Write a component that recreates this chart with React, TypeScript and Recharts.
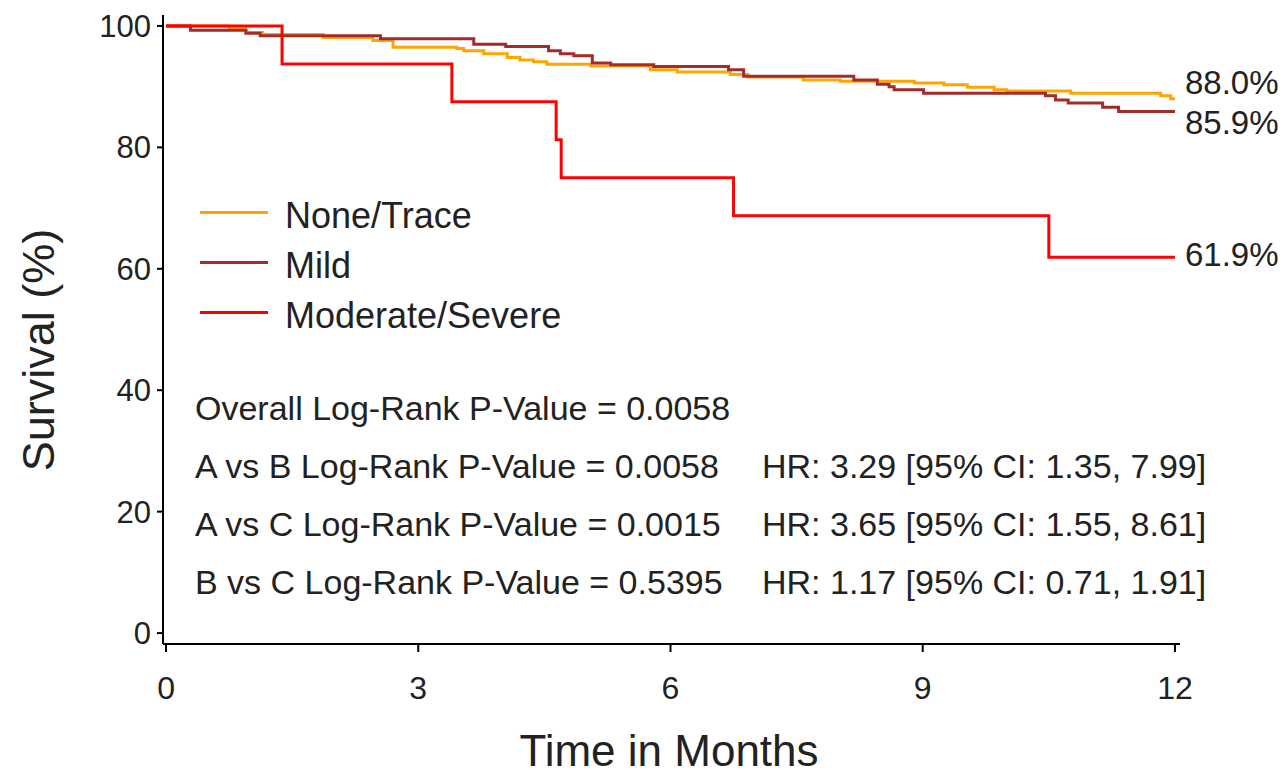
import { LineChart, Line, XAxis, YAxis, LabelList, Label } from 'recharts';

// Kaplan-Meier curves (time in months, survival %)
const noneTimes = [0, 0.75, 0.95, 1.15, 1.87, 2.46, 2.7, 3.46, 3.54, 3.78, 4.06, 4.21, 4.37, 4.53, 5.05, 5.76, 6.08, 6.71, 6.92, 7.58, 8.02, 8.9, 9.25, 9.53, 9.85, 10.0, 10.76, 11.83, 11.95, 12];
const noneSurv = [100, 99.5, 98.9, 98.6, 98.1, 97.6, 96.5, 96.3, 95.9, 95.4, 94.8, 94.4, 94.1, 93.7, 93.4, 92.8, 92.4, 92.0, 91.6, 91.1, 90.9, 90.6, 90.3, 89.9, 89.5, 89.3, 88.9, 88.5, 88.0, 88.0];

const mildTimes = [0, 0.29, 0.95, 1.12, 2.55, 3.66, 4.04, 4.55, 4.69, 4.85, 5.07, 5.29, 5.8, 6.69, 6.87, 8.18, 8.46, 8.6, 8.66, 9.01, 10.46, 10.58, 10.73, 11.14, 11.33, 12];
const mildSurv = [100, 99.3, 98.8, 98.4, 97.9, 97.0, 96.6, 95.9, 95.4, 95.1, 93.9, 93.6, 93.3, 92.8, 91.7, 91.1, 90.4, 90.0, 89.5, 88.9, 88.5, 87.8, 87.3, 86.6, 85.9, 85.9];

const modTimes = [0, 1.38, 3.4, 4.64, 4.7, 6.75, 10.5, 12];
const modSurv = [100, 93.75, 87.5, 81.25, 75, 68.75, 61.9, 61.9];

const xTicks = [0, 3, 6, 9, 12];
const yTicks = [0, 20, 40, 60, 80, 100];

const stats = [
  { test: 'Overall Log-Rank P-Value = 0.0058', hr: '' },
  { test: 'A vs B Log-Rank P-Value = 0.0058', hr: 'HR: 3.29 [95% CI: 1.35, 7.99]' },
  { test: 'A vs C Log-Rank P-Value = 0.0015', hr: 'HR: 3.65 [95% CI: 1.55, 8.61]' },
  { test: 'B vs C Log-Rank P-Value = 0.5395', hr: 'HR: 1.17 [95% CI: 0.71, 1.91]' },
];

const toRows = (times: number[], surv: number[]) => times.map((t, i) => ({ t, s: surv[i] }));

const series = [
  { name: 'None/Trace', color: '#FFA500', data: toRows(noneTimes, noneSurv), labelDy: -16 },
  { name: 'Mild', color: '#A52A2A', data: toRows(mildTimes, mildSurv), labelDy: 11 },
  { name: 'Moderate/Severe', color: '#FF0000', data: toRows(modTimes, modSurv), labelDy: -3 },
];

const FONT = '"Liberation Sans", Arial, sans-serif';
const INK = '#222';

function EndLabel(props: any, lastIndex: number, dy: number) {
  const { x, y, index, value } = props;
  if (index !== lastIndex) return null;
  return (
    <text x={x + 10} y={y + dy} dominantBaseline="central" fontSize={33} fill={INK} fontFamily={FONT}>
      {`${Number(value).toFixed(1)}%`}
    </text>
  );
}

export default function App() {
  return (
    <div style={{ position: 'absolute', left: 0, top: 0, width: 1285, height: 773, background: '#fff' }}>
      <LineChart width={1285} height={773} margin={{ top: 15, right: 105, bottom: 69, left: 63 }}>
        <XAxis
          type="number"
          dataKey="t"
          domain={[-0.036, 12.06]}
          ticks={xTicks}
          allowDataOverflow
          stroke="#000"
          strokeWidth={2}
          tickSize={8}
          tickMargin={24}
          height={60}
          tick={{ fontSize: 32, fill: INK, fontFamily: FONT }}
        >
          <Label
            content={() => (
              <text x={669} y={750} textAnchor="middle" dominantBaseline="central" fontSize={44} fill={INK} fontFamily={FONT}>
                Time in Months
              </text>
            )}
          />
        </XAxis>
        <YAxis
          type="number"
          domain={[-1.8, 101.8]}
          ticks={yTicks}
          allowDataOverflow
          width={100}
          stroke="#000"
          strokeWidth={2}
          tickSize={6}
          tickMargin={6}
          tick={{ fontSize: 31, fill: INK, fontFamily: FONT }}
        >
          <Label
            content={() => (
              <text
                x={38}
                y={350}
                transform="rotate(-90 38 350)"
                textAnchor="middle"
                dominantBaseline="central"
                fontSize={45}
                fill={INK}
                fontFamily={FONT}
              >
                Survival (%)
              </text>
            )}
          />
        </YAxis>
        {series.map((s) => (
          <Line
            key={s.name}
            name={s.name}
            data={s.data}
            dataKey="s"
            type="stepAfter"
            stroke={s.color}
            strokeWidth={3}
            dot={false}
            activeDot={false}
            isAnimationActive={false}
          >
            <LabelList dataKey="s" content={(p: any) => EndLabel(p, s.data.length - 1, s.labelDy)} />
          </Line>
        ))}
      </LineChart>

      {/* legend */}
      <div style={{ position: 'absolute', left: 200, top: 187, fontFamily: FONT }}>
        {series.map((s) => (
          <div key={s.name} style={{ display: 'flex', alignItems: 'center', height: 50 }}>
            <div style={{ width: 68, height: 3, background: s.color, marginRight: 17 }} />
            <span style={{ fontSize: 36, color: INK, position: 'relative', top: 4 }}>{s.name}</span>
          </div>
        ))}
      </div>

      {/* log-rank / HR notes */}
      <div style={{ position: 'absolute', left: 195, top: 385, fontFamily: FONT, fontSize: 34, color: INK }}>
        {stats.map((r) => (
          <div key={r.test} style={{ position: 'relative', height: 58, lineHeight: '46px', whiteSpace: 'nowrap' }}>
            <span>{r.test}</span>
            {r.hr && <span style={{ position: 'absolute', left: 567 }}>{r.hr}</span>}
          </div>
        ))}
      </div>
    </div>
  );
}
